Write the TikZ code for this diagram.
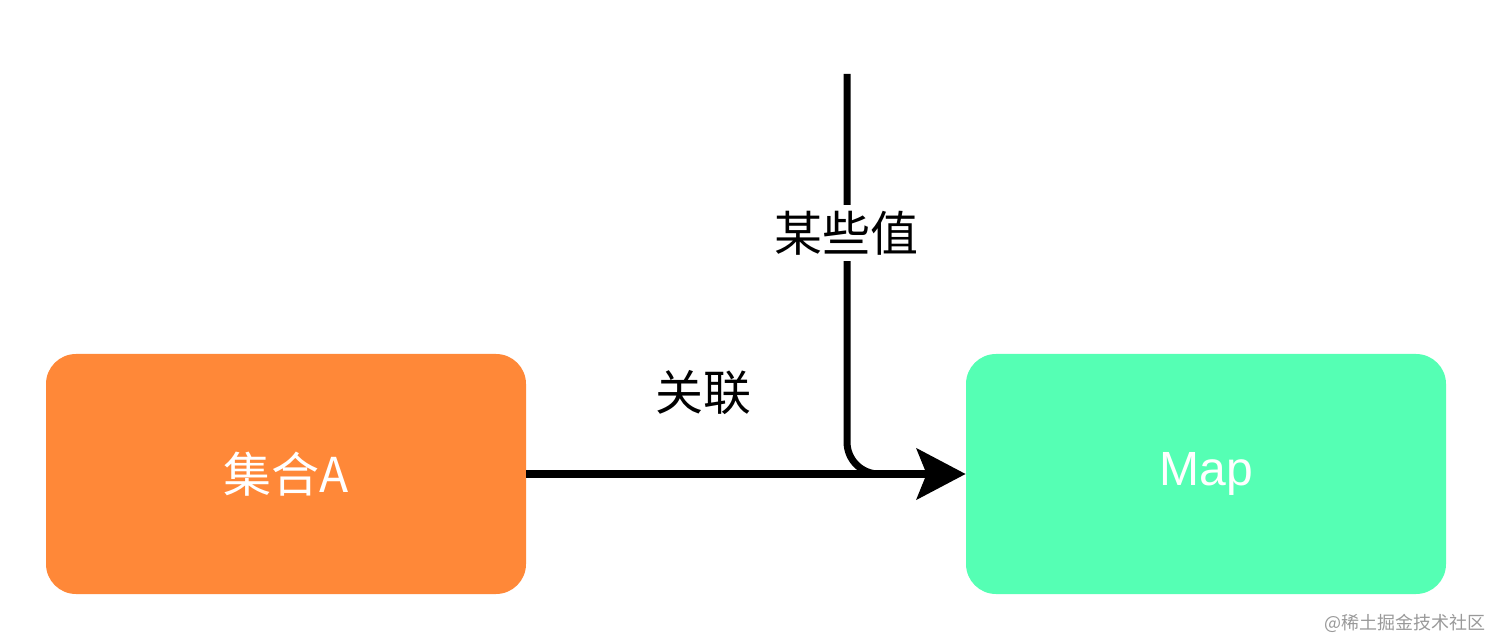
\documentclass[tikz,border=0pt]{standalone}
\usepackage{fontspec}
\setmainfont{Liberation Sans}
\newfontfamily\cjk{Noto Sans CJK SC}
\usetikzlibrary{arrows.meta,positioning}
\definecolor{setorange}{HTML}{FF8838}
\definecolor{mapgreen}{HTML}{55FFB4}
\tikzset{
  box/.style={rectangle,rounded corners=15pt,minimum width=240pt,minimum height=120pt,
    text=white,font=\fontsize{24}{28}\selectfont\cjk,inner sep=0pt},
  link/.style={line width=3.5pt},
  lbl/.style={font=\fontsize{24}{28}\selectfont\cjk,inner sep=3pt}
}
\begin{document}
\begin{tikzpicture}[x=0.5pt,y=-0.5pt]
          \useasboundingbox (0,0) rectangle (1492,640);

          \node[box,fill=setorange] (seta) at (286,474) {集合A};
          \node[box,fill=mapgreen,font=\fontsize{24}{28}\selectfont] (map) at (1206,474) {Map};

          \coordinate (top) at (847,74);
          \coordinate (join) at ([xshift=-25pt]map.west);

          \draw[link,rounded corners=16pt] (top) |- (join);
          \draw[link,-{Stealth[length=24.5pt,width=25.5pt,inset=5pt]}] (seta.east) -- (map.west);

          \node[lbl,fill=white] (vals) at (846,233) {某些值};
          \node[lbl] (assoc) at (703,393) {关联};

          \node[font=\fontsize{9}{11}\selectfont\cjk,text=black!40,anchor=east,inner sep=0pt] (mark) at (1486,623) {@稀土掘金技术社区};
\end{tikzpicture}
\end{document}
